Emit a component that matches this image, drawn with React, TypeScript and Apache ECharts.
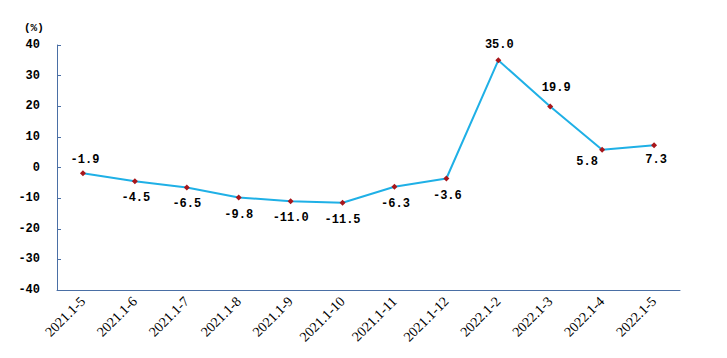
import React, { useEffect, useRef } from "react";
import * as echarts from "echarts";

const categories = [
  "2021.1-5", "2021.1-6", "2021.1-7", "2021.1-8", "2021.1-9", "2021.1-10",
  "2021.1-11", "2021.1-12", "2022.1-2", "2022.1-3", "2022.1-4", "2022.1-5",
];
const values = [-1.9, -4.5, -6.5, -9.8, -11.0, -11.5, -6.3, -3.6, 35.0, 19.9, 5.8, 7.3];
const labelPos = ["top", "bottom", "bottom", "bottom", "bottom", "bottom", "bottom", "bottom", "top", "top", "bottom", "bottom"];
const labelOffset: number[][] = [
  [2, 4], [1, 0], [0, 0], [0, 0], [0, 0], [0, 0],
  [1, 0], [1, 0], [1, 2], [6, -2], [-15, -5], [2, -2],
];

const monoFont = "'Liberation Mono', 'DejaVu Sans Mono', monospace";

export default function App() {
  const ref = useRef<HTMLDivElement>(null);
  useEffect(() => {
    const chart = echarts.init(ref.current!, null, { renderer: "svg" });
    chart.setOption({
      animation: false,
      backgroundColor: "#ffffff",
      grid: { left: 49, right: 39, top: 37, bottom: 60 },
      graphic: [
        {
          type: "text",
          left: 16,
          top: 14,
          style: { text: "(%)", font: `bold 11px ${monoFont}`, fill: "#000" },
        },
      ],
      xAxis: {
        type: "category",
        data: categories,
        boundaryGap: true,
        axisLine: { onZero: false, lineStyle: { color: "#4A6FA5", width: 1 } },
        axisTick: { inside: true, length: 4, lineStyle: { color: "#4A6FA5" } },
        axisLabel: {
          rotate: 45,
          interval: 0,
          color: "#000",
          fontFamily: "'Liberation Serif', serif",
          fontSize: 14,
          margin: 9,
        },
      },
      yAxis: {
        type: "value",
        min: -40,
        max: 40,
        interval: 10,
        splitLine: { show: false },
        axisLine: { show: true, lineStyle: { color: "#4A6FA5", width: 1 } },
        axisTick: { show: true, inside: true, length: 4, lineStyle: { color: "#4A6FA5" } },
        axisLabel: {
          color: "#000",
          fontFamily: monoFont,
          fontWeight: "bold",
          fontSize: 12,
          margin: 17,
        },
      },
      series: [
        {
          type: "line",
          data: values.map((v, i) => ({
            value: v,
            label: {
              show: true,
              position: labelPos[i],
              offset: labelOffset[i],
              distance: 8,
              formatter: (p: any) => Number(p.value).toFixed(1),
              color: "#000",
              fontFamily: monoFont,
              fontWeight: "bold",
              fontSize: 12,
            },
          })),
          symbol: "diamond",
          symbolSize: 6,
          itemStyle: { color: "#A8161B" },
          lineStyle: { color: "#1FB0E6", width: 2 },
        },
      ],
    });
    return () => chart.dispose();
  }, []);
  return <div ref={ref} style={{ width: 711, height: 342 }} />;
}
